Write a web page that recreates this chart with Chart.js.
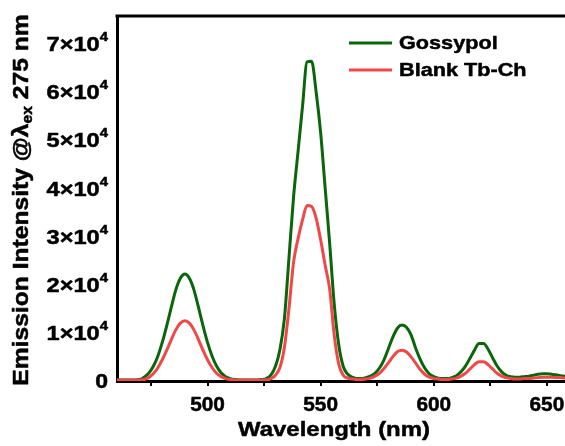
<!DOCTYPE html>
<html>
<head>
<meta charset="utf-8">
<script src="https://cdn.jsdelivr.net/npm/chart.js@4.4.1/dist/chart.umd.min.js"></script>
<style>
  html, body { margin: 0; padding: 0; background: #fff; overflow: hidden; }
  #wrap { width: 565px; height: 446px; }
</style>
</head>
<body>
<div id="wrap"><canvas id="spectrum" width="565" height="446"></canvas></div>
<script>
// emission spectra, excitation at 275 nm, 2 nm steps
const wavelength = [
  460, 462, 464, 466, 468, 470, 472, 474, 476, 478,
  480, 482, 484, 486, 488, 490, 492, 494, 496, 498,
  500, 502, 504, 506, 508, 510, 512, 514, 516, 518,
  520, 522, 524, 526, 528, 530, 532, 534, 536, 538,
  540, 542, 544, 546, 548, 550, 552, 554, 556, 558,
  560, 562, 564, 566, 568, 570, 572, 574, 576, 578,
  580, 582, 584, 586, 588, 590, 592, 594, 596, 598,
  600, 602, 604, 606, 608, 610, 612, 614, 616, 618,
  620, 622, 624, 626, 628, 630, 632, 634, 636, 638,
  640, 642, 644, 646, 648, 650, 652, 654, 656, 658
];

const gossypol = [
  200, 200, 200, 200, 200, 300, 800, 1600, 3000, 5100,
  8000, 11500, 15300, 18900, 21300, 22200, 21300, 18900, 15300, 11500,
  8000, 5200, 3100, 1700, 900, 500, 300, 200, 200, 200,
  200, 200, 300, 500, 1200, 3000, 6500, 13000, 25500, 38000,
  47500, 57000, 66200, 66300, 60000, 51500, 40000, 28500, 16000, 7500,
  3000, 1400, 800, 500, 500, 700, 1000, 1600, 2700, 4400,
  6800, 9200, 11000, 11600, 11100, 9500, 6800, 4500, 2700, 1500,
  900, 600, 500, 500, 700, 1100, 1900, 3100, 4700, 6400,
  7800, 7800, 6600, 4800, 3100, 1900, 1200, 900, 800, 800,
  900, 1000, 1200, 1400, 1500, 1500, 1400, 1300, 1100, 1000
];

const blankTbCh = [
  200, 200, 200, 200, 200, 200, 300, 700, 1500, 2700,
  4400, 6400, 8600, 10600, 12000, 12500, 12000, 10600, 8600, 6400,
  4400, 2800, 1600, 900, 500, 300, 200, 200, 200, 200,
  200, 200, 200, 200, 500, 1200, 2800, 7000, 15000, 24500,
  29500, 33400, 36400, 36200, 33800, 29300, 24000, 19000, 9500, 3500,
  1200, 600, 400, 300, 300, 400, 600, 1000, 1600, 2600,
  3800, 5100, 6100, 6400, 6000, 5000, 3700, 2400, 1400, 800,
  500, 400, 300, 300, 400, 600, 1000, 1600, 2500, 3400,
  4000, 4000, 3400, 2500, 1600, 1000, 700, 500, 400, 400,
  500, 500, 600, 700, 800, 800, 800, 700, 700, 600
];

const seriesNames = ["Gossypol", "Blank Tb-Ch"];
const seriesColors = ["#0a660a", "#f04848"];
const xTickLabels = [500, 550, 600, 650];
const yTickValues = [0, 10000, 20000, 30000, 40000, 50000, 60000, 70000];

const FONT = "'Liberation Sans', Arial, sans-serif";

// bold text with a horizontal stretch and a thin outline; returns drawn width
function wideText(ctx, str, x, y, size, sx, align) {
  ctx.save();
  ctx.font = "bold " + size + "px " + FONT;
  const w = ctx.measureText(str).width * sx;
  let x0 = x;
  if (align === "right") x0 = x - w;
  if (align === "center") x0 = x - w / 2;
  ctx.translate(x0, y);
  ctx.scale(sx, 1);
  ctx.textAlign = "left";
  ctx.fillStyle = "#000";
  ctx.strokeStyle = "#000";
  ctx.lineWidth = 0.5;
  ctx.lineJoin = "round";
  ctx.fillText(str, 0, 0);
  ctx.strokeText(str, 0, 0);
  ctx.restore();
  return w;
}

function textWidth(ctx, str, size, sx) {
  ctx.save();
  ctx.font = "bold " + size + "px " + FONT;
  const w = ctx.measureText(str).width * sx;
  ctx.restore();
  return w;
}

const decorations = {
  id: "decorations",
  afterDraw(chart) {
    const ctx = chart.ctx;
    const area = chart.chartArea;
    const xScale = chart.scales.x;
    const yScale = chart.scales.y;
    ctx.save();

    // top frame line
    ctx.strokeStyle = "#000";
    ctx.lineWidth = 3;
    ctx.beginPath();
    ctx.moveTo(area.left - 1.5, area.top);
    ctx.lineTo(area.right, area.top);
    ctx.stroke();

    ctx.textBaseline = "middle";

    // x tick labels
    xTickLabels.forEach((v) => {
      wideText(ctx, String(v), xScale.getPixelForValue(v), 405, 20, 1.04, "center");
    });

    // y tick labels as n×10^4
    yTickValues.forEach((v) => {
      const y = yScale.getPixelForValue(v);
      const right = area.left - 9;
      if (v === 0) {
        wideText(ctx, "0", right, y + 1, 20, 1.15, "right");
        return;
      }
      const supW = wideText(ctx, "4", right, y - 6, 13, 1.15, "right");
      wideText(ctx, (v / 10000) + "×10", right - supW, y + 2, 20, 1.18, "right");
    });

    // x title
    wideText(ctx, "Wavelength (nm)", 334, 430, 21, 1.14, "center");

    // y title, rotated, with subscript
    ctx.save();
    ctx.translate(22, 200);
    ctx.rotate(-Math.PI / 2);
    const parts = [
      { t: "Emission Intensity @", s: 22, dy: 0 },
      { t: "λ", s: 22, dy: 0 },
      { t: "ex", s: 14, dy: 6 },
      { t: " 275 nm", s: 22, dy: 0 }
    ];
    const total = parts.reduce((a, p) => a + textWidth(ctx, p.t, p.s, 1.12), 0);
    let x = -total / 2;
    parts.forEach((p) => {
      x += wideText(ctx, p.t, x, p.dy, p.s, 1.12, "left");
    });
    ctx.restore();

    // legend
    chart.data.datasets.forEach((ds, i) => {
      const y = 43 + i * 27;
      ctx.strokeStyle = ds.borderColor;
      ctx.lineWidth = 3;
      ctx.beginPath();
      ctx.moveTo(349, y);
      ctx.lineTo(392, y);
      ctx.stroke();
      wideText(ctx, ds.label, 399, y + 1, 19, 1.14, "left");
    });

    ctx.restore();
  }
};

const toPoints = (vals) => wavelength.map((w, i) => ({ x: w, y: vals[i] }));

new Chart(document.getElementById("spectrum"), {
  type: "line",
  data: {
    datasets: [
      { label: seriesNames[0], data: toPoints(gossypol), borderColor: seriesColors[0], order: 1 },
      { label: seriesNames[1], data: toPoints(blankTbCh), borderColor: seriesColors[1], order: 0 }
    ]
  },
  options: {
    responsive: false,
    animation: false,
    layout: { padding: { top: 16, left: 0, right: 0, bottom: 0 } },
    plugins: { legend: { display: false }, tooltip: { enabled: false } },
    elements: {
      point: { radius: 0 },
      line: { borderWidth: 3, fill: false, cubicInterpolationMode: "monotone" }
    },
    scales: {
      x: {
        type: "linear",
        min: 460,
        max: 658,
        afterFit(s) { s.height = 65; },
        ticks: { stepSize: 25, includeBounds: false, autoSkip: false, display: false },
        grid: { drawOnChartArea: false, drawTicks: true, tickLength: 5, color: "#000", lineWidth: 2 },
        border: { display: true, color: "#000", width: 3 }
      },
      y: {
        min: 0,
        max: 75700,
        afterFit(s) { s.width = 117; },
        ticks: { stepSize: 10000, includeBounds: false, display: false },
        grid: { display: false },
        border: { display: true, color: "#000", width: 3 }
      }
    }
  },
  plugins: [decorations]
});
</script>
</body>
</html>
